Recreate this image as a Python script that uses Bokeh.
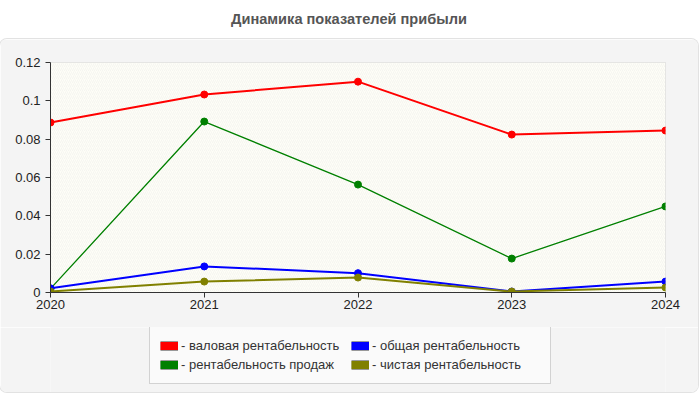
from bokeh.plotting import figure
from bokeh.models import (Div, Legend, LegendItem, BoxAnnotation, FixedTicker,
                          CustomJSTickFormatter, ColumnDataSource)
from bokeh.layouts import column
from bokeh.embed import file_html
from bokeh.resources import INLINE

years = [2020, 2021, 2022, 2023, 2024]
gross = [0.0887, 0.1033, 0.1100, 0.0824, 0.0845]
sales = [0.0020, 0.0892, 0.0563, 0.0177, 0.0449]
total = [0.0022, 0.0136, 0.0101, 0.0005, 0.0057]
net = [0.0005, 0.0057, 0.0078, 0.0005, 0.0026]

series = [
    ("- валовая рентабельность", gross, "#ff0000", 2),
    ("- рентабельность продаж", sales, "#008000", 1.3),
    ("- общая рентабельность", total, "#0000ff", 2),
    ("- чистая рентабельность", net, "#808000", 2),
]
y_ticks = [0, 0.02, 0.04, 0.06, 0.08, 0.1, 0.12]

FONT = "Liberation Sans"
W = 698

title = Div(
    text='<div style="text-align:center;font:bold 14.6px \'Liberation Sans\';'
         'color:#555;padding-top:6px;width:%dpx">Динамика показателей прибыли</div>' % (W - 10),
    width=W, height=29,
)

p = figure(width=W, height=288, x_range=(2020, 2024), y_range=(0, 0.12),
           output_backend="svg", toolbar_location=None,
           min_border_left=50, min_border_right=W - 665, min_border_top=23,
           min_border_bottom=35)
p.border_fill_color = "#f4f4f4"
p.background_fill_color = "#fefef7"
p.outline_line_color = "#dddddd"

# faint diagonal hatching over the plotting area
p.add_layout(BoxAnnotation(fill_color="#fefef7", fill_alpha=1,
                           hatch_pattern="/", hatch_color="#e6e6e6",
                           hatch_alpha=0.7, hatch_scale=4, hatch_weight=0.5,
                           line_alpha=0, level="underlay"))

for ax in (p.xaxis[0], p.yaxis[0]):
    ax.axis_line_color = "#333333"
    ax.major_tick_line_color = "#333333"
    ax.minor_tick_line_color = None
    ax.major_tick_in = 0
    ax.major_tick_out = 5
    ax.major_label_text_font = FONT
    ax.major_label_text_font_size = "13px"
    ax.major_label_text_color = "#222222"

p.xaxis.ticker = FixedTicker(ticks=years)
p.xaxis.major_label_standoff = 2
p.yaxis.ticker = FixedTicker(ticks=y_ticks)
p.yaxis.major_label_standoff = 5
p.yaxis.formatter = CustomJSTickFormatter(code="return String(+tick.toFixed(2));")

for g in (p.xgrid[0], p.ygrid[0]):
    g.grid_line_color = "#dddddd"
    g.grid_line_dash = "4 4"
    g.grid_line_width = 1

sources = []
for label, vals, color, lw in series:
    src = ColumnDataSource(data=dict(x=years, y=vals))
    sources.append(src)
    p.line("x", "y", source=src, line_color=color, line_width=lw)
    p.scatter("x", "y", source=src, size=7, fill_color=color, line_color=color)

# legend lives in its own strip of the grey panel
lg = figure(width=W, height=65, x_range=(0, 1), y_range=(0, 1),
            output_backend="svg", toolbar_location=None,
            x_axis_location=None, y_axis_location=None, min_border=0)
lg.border_fill_color = "#f4f4f4"
lg.background_fill_color = "#f4f4f4"
lg.outline_line_color = None
lg.grid.visible = False

items = []
for (label, vals, color, lw), src in zip(series, sources):
    edge = lg.line("x", "y", source=src, line_color="#999999", line_width=10,
                   visible=False)
    sw = lg.line("x", "y", source=src, line_color=color, line_width=8,
                 visible=False)
    items.append(LegendItem(label=label, renderers=[edge, sw]))

legend = Legend(items=items, ncols=2, location=(99, 8),
                padding=10, margin=0, spacing=2,
                glyph_width=18, glyph_height=17, label_height=17,
                label_standoff=3, label_width=168,
                label_text_font=FONT, label_text_font_size="13px",
                label_text_color="#333333",
                inactive_fill_alpha=0,
                background_fill_color="#fafafa", background_fill_alpha=1,
                border_line_color="#aaaaaa", border_line_width=1)
lg.add_layout(legend, "center")

layout = column(title, column(p, lg, styles={"border-radius": "7px",
                                             "overflow": "hidden",
                                             "box-shadow": "0 0 0 1px #e2e2e2"}))
open("out.html", "w").write(file_html(layout, INLINE))
